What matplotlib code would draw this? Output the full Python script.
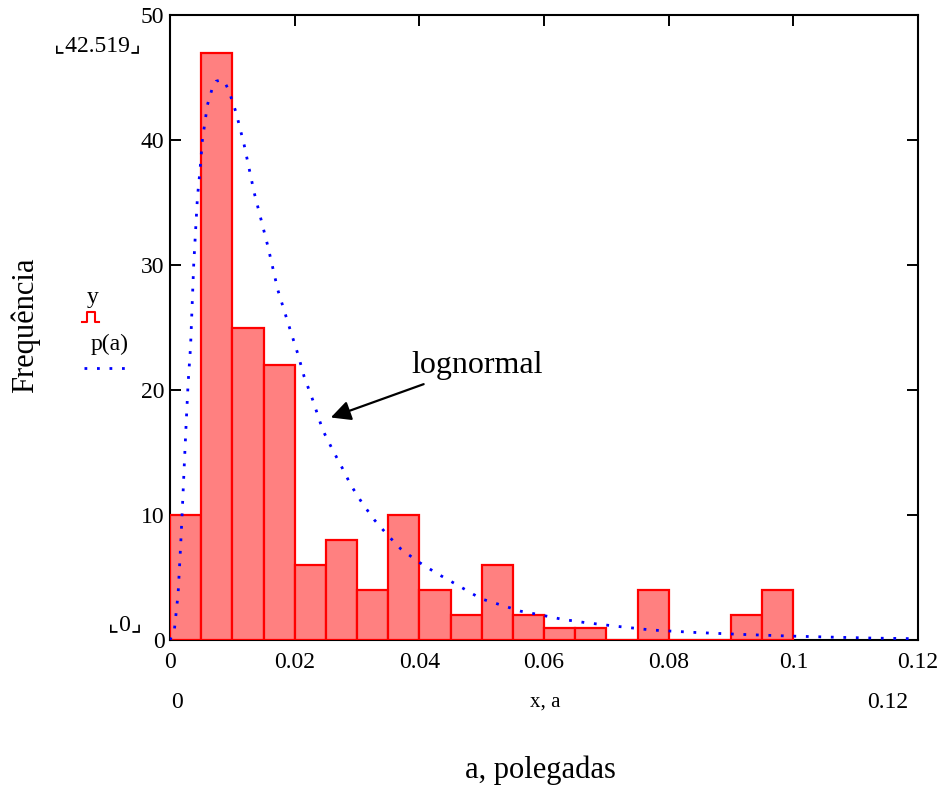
import numpy as np
import matplotlib
matplotlib.use("Agg")
import matplotlib.pyplot as plt
from matplotlib.lines import Line2D

# histogram bins (left edges, in inches) and counts
bin_width = 0.005
bin_left = np.arange(0, 0.1, bin_width)
counts = [10, 47, 25, 22, 6, 8, 4, 10, 4, 2, 6, 2, 1, 1, 0, 4, 0, 0, 2, 4]

# lognormal curve p(a)
curve_x = [0, 0.0007, 0.0013, 0.0017, 0.0020, 0.0023, 0.0026, 0.0029, 0.0033, 0.0038,
           0.0044, 0.0048, 0.0052, 0.0060, 0.0067, 0.0074, 0.0081, 0.0087, 0.0094, 0.0106,
           0.0119, 0.0135, 0.0157, 0.0173, 0.0191, 0.0205, 0.0215, 0.0229, 0.0245, 0.0261,
           0.0277, 0.0290, 0.0309, 0.0328, 0.0349, 0.0370, 0.0397, 0.0429, 0.0461, 0.0499,
           0.0531, 0.0563, 0.0595, 0.0630, 0.0665, 0.0716, 0.0772, 0.0844, 0.0916, 0.0991,
           0.1069, 0.1130, 0.1200]
curve_y = [0, 0.8, 3.7, 7.5, 10.7, 14.1, 17.4, 20.5, 23.5, 30.0,
           35.4, 37.5, 40.0, 42.8, 44.0, 44.7, 44.8, 44.7, 44.0, 42.2,
           39.6, 35.8, 31.5, 28.0, 25.1, 22.9, 21.1, 19.2, 16.8, 15.2,
           13.7, 12.4, 10.9, 9.6, 8.4, 7.3, 6.3, 5.3, 4.4, 3.3,
           2.8, 2.3, 2.0, 1.65, 1.4, 1.1, 0.8, 0.6, 0.45, 0.32,
           0.22, 0.15, 0.1]

x_ticks = [0, 0.02, 0.04, 0.06, 0.08, 0.1, 0.12]
x_tick_labels = ["0", "0.02", "0.04", "0.06", "0.08", "0.1", "0.12"]
y_ticks = [0, 10, 20, 30, 40, 50]

serif = ["Liberation Serif", "DejaVu Serif"]
plt.rcParams["font.family"] = serif

fig = plt.figure(figsize=(9.44, 7.85), dpi=100)
ax = fig.add_axes([170 / 944, 145 / 785, 748 / 944, 625 / 785])

ax.bar(bin_left, counts, width=bin_width, align="edge",
       facecolor="#ff8080", edgecolor="red", linewidth=1.6, zorder=3)
ax.plot(curve_x, curve_y, color="blue", linewidth=2.0,
        linestyle=(0, (1, 3.5)), zorder=4)

ax.set_xlim(0, 0.12)
ax.set_ylim(0, 50)
ax.set_xticks(x_ticks)
ax.set_xticklabels(x_tick_labels)
ax.set_yticks(y_ticks)
ax.tick_params(direction="in", length=8, width=1.4, top=True, right=True,
               labelsize=17)
ax.tick_params(axis="x", pad=9)
ax.tick_params(axis="y", pad=4)
for s in ax.spines.values():
    s.set_linewidth(1.5)

ax.annotate("lognormal", xy=(0.0258, 17.8), xytext=(0.0387, 22.0),
            fontsize=23, va="center", ha="left",
            arrowprops=dict(arrowstyle="-|>", color="black", lw=1.6,
                            mutation_scale=30, shrinkA=4, shrinkB=0))

# Mathcad-style extras
fig.text(25 / 944, 1 - 325 / 785, "Frequência", rotation=90, fontsize=22,
         ha="center", va="center")
fig.text(540 / 944, 1 - 770 / 785, "a, polegadas", fontsize=22,
         ha="center", va="center")
fig.text(97 / 944, 1 - 46 / 785, "⌞42.519⌟", fontsize=17,
         ha="center", va="center", family=serif + ["DejaVu Sans"])
fig.text(125 / 944, 1 - 625 / 785, "⌞0⌟", fontsize=17,
         ha="center", va="center", family=serif + ["DejaVu Sans"])
fig.text(177 / 944, 1 - 702 / 785, "0", fontsize=17, ha="center", va="center")
fig.text(888 / 944, 1 - 702 / 785, "0.12", fontsize=17, ha="center", va="center")
fig.text(545 / 944, 1 - 702 / 785, "x, a", fontsize=15, ha="center", va="center")

# legend traces on the left
fig.text(93 / 944, 1 - 298 / 785, "y", fontsize=17, ha="center", va="center")
fig.lines.append(Line2D([82 / 944, 87 / 944, 87 / 944, 95 / 944, 95 / 944, 99 / 944],
                        [1 - 322 / 785, 1 - 322 / 785, 1 - 312 / 785,
                         1 - 312 / 785, 1 - 322 / 785, 1 - 322 / 785],
                        transform=fig.transFigure, color="red", linewidth=1.5))
fig.text(110 / 944, 1 - 344 / 785, "p(a)", fontsize=17, ha="center", va="center")
fig.lines.append(Line2D([84 / 944, 125 / 944], [1 - 368 / 785, 1 - 368 / 785],
                        transform=fig.transFigure, color="blue", linewidth=2.0,
                        linestyle=(0, (1, 3.5))))

fig.savefig("out.png", dpi=100)
